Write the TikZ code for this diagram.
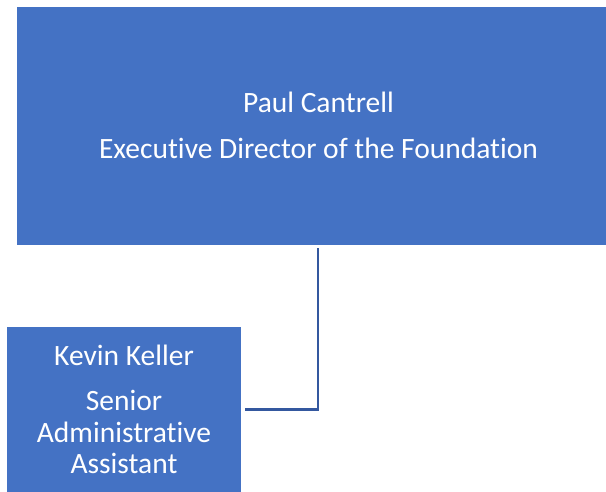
\documentclass[tikz,border=0pt]{standalone}
\usepackage{fontspec}
\setmainfont{Carlito}[Ligatures={NoCommon}]
\definecolor{boxblue}{HTML}{4472C4}
\definecolor{lineblue}{HTML}{34589F}
\begin{document}
\begin{tikzpicture}[x=1pt,y=-1pt,
  orgbox/.style={rectangle, fill=boxblue, draw=white, line width=0.8pt, text=white, align=center, inner sep=0pt,
    font=\fontsize{29.5}{31.5}\selectfont},
  link/.style={draw=lineblue, line width=2.4pt}]
\clip (0,0) rectangle (606,492);
\node[orgbox, minimum width=605, minimum height=239] (director) at (318.5,125.5)
  {Paul Cantrell\\[14.5pt]Executive Director of the Foundation};
\node[orgbox, minimum width=235, minimum height=167] (assistant) at (124,409.5)
  {Kevin Keller\\[13.5pt]Senior\\Administrative\\Assistant};
\coordinate (turn) at (318,409.5);
\draw[link] (director.south -| turn) ++(0,3) -- (turn) -- ([xshift=3pt]assistant.east);
\end{tikzpicture}
\end{document}
